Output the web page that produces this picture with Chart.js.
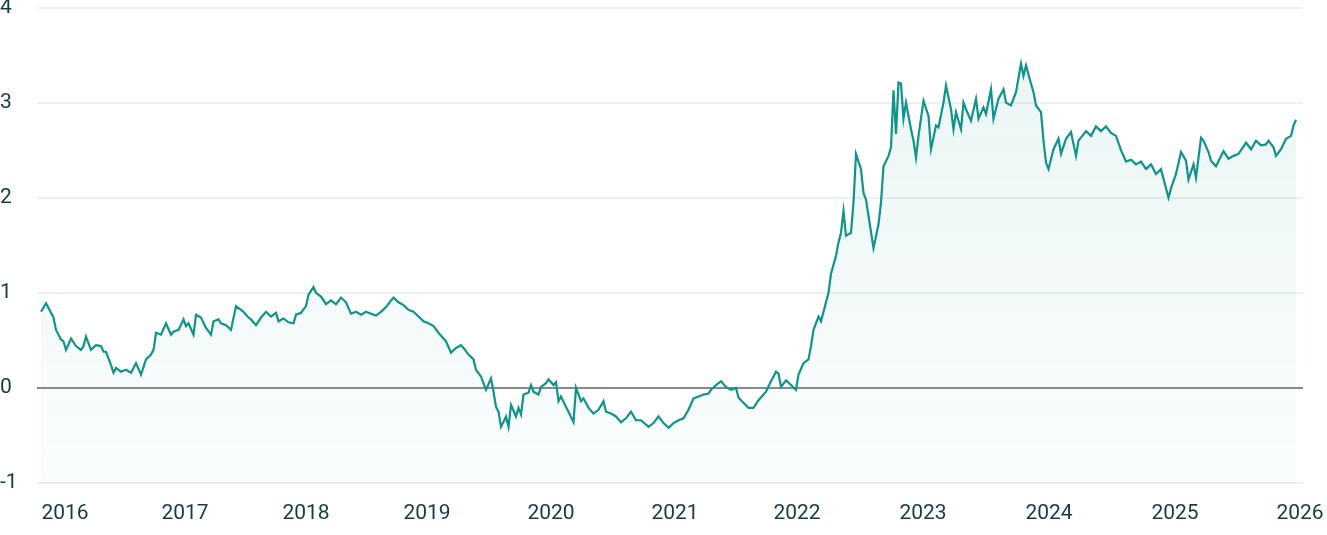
<!DOCTYPE html>
<html>
<head>
<meta charset="utf-8">
<script src="https://cdn.jsdelivr.net/npm/chart.js@4.4.1/dist/chart.umd.min.js"></script>
<style>
    body { margin: 0; background: #ffffff; }
    #wrap { width: 1327px; height: 535px; }
</style>
</head>
<body>
<div id="wrap"><canvas id="chart-rate" width="1327" height="535"></canvas></div>
<script>
const obs = [
    0, 2, 4, 5, 6, 8, 9, 10, 12, 14,
    16, 17, 18, 20, 22, 24, 25, 26, 28, 29,
    30, 32, 34, 36, 38, 40, 42, 44, 45, 46,
    48, 50, 52, 53, 55, 57, 58, 59, 61, 62,
    64, 66, 68, 69, 71, 72, 74, 76, 78, 80,
    81, 83, 84, 86, 88, 90, 92, 94, 95, 97,
    99, 101, 102, 104, 106, 107, 109, 110, 112, 114,
    116, 118, 120, 122, 124, 126, 128, 130, 132, 134,
    136, 138, 140, 141, 143, 145, 147, 149, 151, 153,
    155, 157, 159, 161, 162, 164, 166, 168, 169, 171,
    173, 174, 176, 178, 180, 181, 182, 183, 184, 186,
    187, 188, 190, 191, 192, 193, 195, 196, 197, 199,
    200, 202, 203, 205, 206, 207, 208, 210, 211, 213,
    214, 216, 217, 219, 221, 223, 225, 226, 228, 230,
    232, 234, 236, 238, 240, 243, 245, 247, 249, 251,
    253, 255, 257, 259, 261, 263, 265, 267, 268, 270,
    272, 274, 276, 278, 279, 280, 283, 285, 287, 290,
    292, 294, 295, 296, 298, 300, 302, 303, 305, 307,
    308, 309, 311, 312, 315, 316, 318, 319, 320, 321,
    322, 324, 325, 326, 328, 329, 330, 331, 333, 335,
    336, 337, 339, 340, 341, 342, 343, 344, 345, 346,
    348, 349, 350, 351, 353, 355, 356, 358, 359, 361,
    362, 364, 365, 366, 368, 369, 370, 372, 374, 375,
    377, 378, 380, 381, 383, 385, 386, 388, 390, 392,
    393, 394, 396, 397, 398, 400, 401, 402, 403, 405,
    407, 408, 410, 412, 414, 415, 418, 420, 422, 424,
    426, 428, 430, 432, 434, 436, 438, 440, 442, 444,
    446, 448, 450, 451, 452, 454, 456, 458, 459, 461,
    462, 464, 465, 467, 468, 470, 473, 475, 477, 479,
    482, 484, 486, 488, 490, 491, 493, 494, 496, 498,
    500, 501, 502
];

const rate = [
    0.80, 0.89, 0.79, 0.74, 0.61, 0.51, 0.49, 0.40, 0.52, 0.44,
    0.40, 0.44, 0.54, 0.40, 0.45, 0.44, 0.38, 0.38, 0.24, 0.16,
    0.21, 0.17, 0.19, 0.16, 0.26, 0.14, 0.30, 0.35, 0.40, 0.58,
    0.56, 0.68, 0.56, 0.59, 0.61, 0.72, 0.65, 0.68, 0.56, 0.77,
    0.74, 0.63, 0.56, 0.70, 0.72, 0.68, 0.66, 0.61, 0.86, 0.82,
    0.80, 0.74, 0.72, 0.66, 0.74, 0.80, 0.75, 0.79, 0.70, 0.73,
    0.69, 0.68, 0.77, 0.79, 0.86, 0.98, 1.06, 1.00, 0.96, 0.88,
    0.92, 0.88, 0.95, 0.90, 0.78, 0.80, 0.77, 0.80, 0.78, 0.76,
    0.80, 0.85, 0.92, 0.95, 0.90, 0.87, 0.82, 0.80, 0.75, 0.70,
    0.68, 0.65, 0.58, 0.52, 0.49, 0.37, 0.42, 0.45, 0.42, 0.35,
    0.30, 0.19, 0.12, -0.02, 0.10, -0.04, -0.20, -0.25, -0.41, -0.30,
    -0.41, -0.18, -0.30, -0.21, -0.28, -0.07, -0.05, 0.03, -0.04, -0.07,
    0.01, 0.05, 0.09, 0.03, 0.06, -0.14, -0.09, -0.20, -0.25, -0.36,
    0.00, -0.14, -0.11, -0.21, -0.27, -0.23, -0.14, -0.25, -0.27, -0.30,
    -0.36, -0.32, -0.25, -0.34, -0.34, -0.41, -0.37, -0.30, -0.37, -0.42,
    -0.37, -0.34, -0.32, -0.23, -0.11, -0.09, -0.07, -0.06, -0.02, 0.03,
    0.07, 0.01, -0.02, 0.00, -0.10, -0.13, -0.21, -0.21, -0.13, -0.04,
    0.07, 0.17, 0.15, 0.01, 0.08, 0.03, -0.02, 0.14, 0.26, 0.30,
    0.44, 0.61, 0.75, 0.70, 1.00, 1.20, 1.39, 1.53, 1.63, 1.86,
    1.60, 1.63, 1.95, 2.46, 2.30, 2.05, 1.98, 1.81, 1.47, 1.72,
    1.95, 2.33, 2.44, 2.53, 3.13, 2.67, 3.21, 3.20, 2.83, 3.00,
    2.72, 2.60, 2.42, 2.65, 3.02, 2.86, 2.51, 2.76, 2.74, 3.00,
    3.18, 2.93, 2.72, 2.90, 2.72, 3.00, 2.93, 2.81, 3.04, 2.83,
    2.95, 2.88, 3.14, 2.83, 3.04, 3.14, 3.00, 2.97, 3.11, 3.41,
    3.28, 3.39, 3.20, 3.11, 2.97, 2.90, 2.60, 2.37, 2.30, 2.51,
    2.62, 2.46, 2.62, 2.69, 2.44, 2.60, 2.70, 2.65, 2.75, 2.70,
    2.75, 2.68, 2.65, 2.50, 2.38, 2.40, 2.35, 2.38, 2.30, 2.35,
    2.25, 2.30, 2.10, 2.00, 2.10, 2.25, 2.48, 2.39, 2.19, 2.35,
    2.21, 2.63, 2.60, 2.48, 2.39, 2.33, 2.49, 2.41, 2.44, 2.46,
    2.58, 2.51, 2.60, 2.55, 2.56, 2.60, 2.53, 2.44, 2.51, 2.62,
    2.65, 2.76, 2.82
];

// year labels and the observation where each year starts
const years = ['2016', '2017', '2018', '2019', '2020', '2021', '2022', '2023', '2024', '2025', '2026'];
const yearStart = [9.6, 57.6, 106, 154.4, 204, 253.6, 302.4, 352.8, 403.2, 453.6, 503.6];

const yTicks = [-1, 0, 1, 2, 3, 4];

const teal = '#0f938a';
const textCol = '#153c44';

const points = obs.map((x, i) => ({ x: x, y: rate[i] }));

const el = document.getElementById('chart-rate');
const rateChart = new Chart(el, {
    type: 'line',
    data: {
        datasets: [{
            label: 'Rate',
            data: points,
            borderColor: teal,
            borderWidth: 2.2,
            pointRadius: 0,
            tension: 0,
            fill: 'start',
            backgroundColor: function(context) {
                const area = context.chart.chartArea;
                if (!area) return 'rgba(0,0,0,0)';
                const g = context.chart.ctx.createLinearGradient(0, area.top, 0, area.bottom);
                g.addColorStop(0, 'rgba(15,147,138,0.09)');
                g.addColorStop(1, 'rgba(15,147,138,0.02)');
                return g;
            }
        }]
    },
    options: {
        responsive: false,
        animation: false,
        layout: { padding: { top: 7.5, right: 24, bottom: 0, left: 0 } },
        plugins: {
            legend: { display: false },
            tooltip: { enabled: false }
        },
        scales: {
            x: {
                type: 'linear',
                min: -1.6,
                max: 504.8,
                afterBuildTicks: function(scale) {
                    scale.ticks = yearStart.map(v => ({ value: v }));
                },
                afterFit: function(scale) {
                    scale.height = 52;
                    scale.paddingLeft = 0;
                    scale.paddingRight = 0;
                },
                ticks: {
                    autoSkip: false,
                    maxRotation: 0,
                    padding: 18,
                    color: textCol,
                    font: { family: 'Roboto', size: 21 },
                    callback: function(value, index) { return years[index]; }
                },
                grid: { display: false, drawTicks: false },
                border: { display: false }
            },
            y: {
                min: -1,
                max: 4,
                afterBuildTicks: function(scale) {
                    scale.ticks = yTicks.map(v => ({ value: v }));
                },
                afterFit: function(scale) {
                    scale.width = 37;
                    scale.paddingTop = 0;
                    scale.paddingBottom = 0;
                },
                ticks: {
                    crossAlign: 'far',
                    color: textCol,
                    font: { family: 'Roboto', size: 21, lineHeight: 0.5 }
                },
                grid: {
                    drawTicks: false,
                    lineWidth: 2,
                    color: function(context) {
                        return context.tick && context.tick.value === 0 ? '#8a8a8a' : '#edf1f1';
                    }
                },
                border: { display: false }
            }
        }
    }
});
</script>
</body>
</html>
